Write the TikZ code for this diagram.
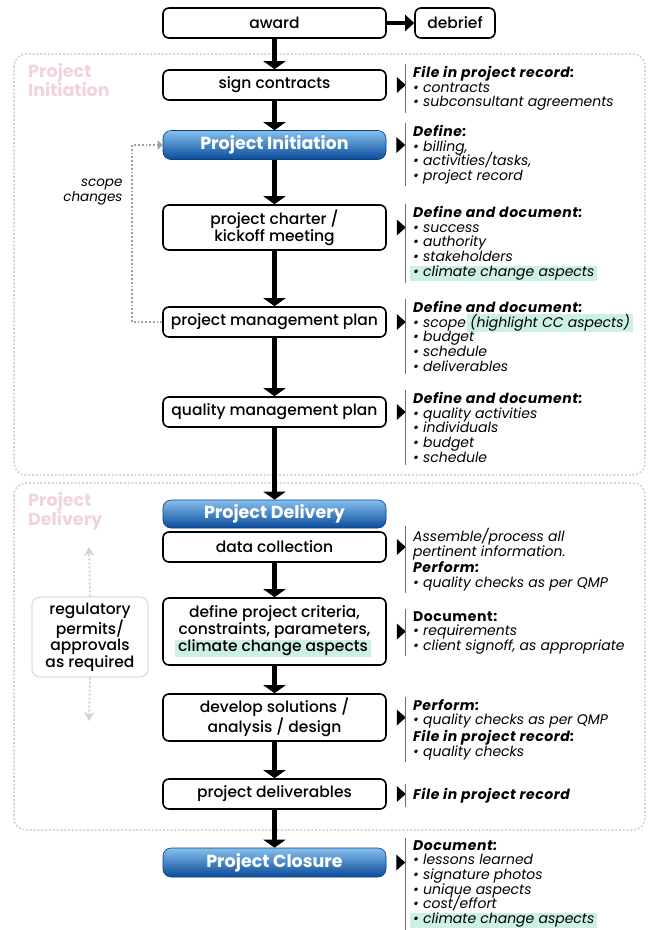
\documentclass[tikz,border=0pt]{standalone}
\usepackage{fontspec}
\setmainfont{Poppins}
\newfontfamily\boxfont{Poppins Medium}
\usetikzlibrary{arrows.meta,positioning}

\definecolor{phasetop}{HTML}{86C0EE}
\definecolor{phasebot}{HTML}{0A4B9B}
\definecolor{ccgreen}{HTML}{CCF0E2}
\definecolor{regionline}{HTML}{D8D2D4}
\definecolor{regionpink}{HTML}{F2D3DC}
\definecolor{notegray}{HTML}{6E6E6E}

\newcommand{\hl}[1]{{\setlength{\fboxsep}{0pt}\hspace*{-3pt}\colorbox{ccgreen}{\hspace{3pt}\strut #1\hspace{3pt}}}}
\newcommand{\head}[1]{{\bfseries\addfontfeatures{LetterSpace=4}#1}}
\newcommand{\tightlines}{\setlength{\lineskiplimit}{-10pt}\setlength{\lineskip}{0pt}}

\tikzset{
  stepbox/.style={draw, line width=1.6pt, rounded corners=6pt, fill=white,
    minimum width=223pt, minimum height=30pt, inner sep=2pt, align=center,
    font=\boxfont\fontsize{15.5}{17}\selectfont},
  phasebox/.style={draw=phasebot!85!black, line width=0.6pt, rounded corners=8pt,
    top color=phasetop, bottom color=phasebot, text=white,
    minimum width=223pt, minimum height=29pt, font=\fontsize{17.5}{19}\selectfont\bfseries},
  flow/.style={line width=4.5pt, -{Triangle[width=22pt,length=8pt]}},
  sideflow/.style={line width=4pt, -{Triangle[width=16pt,length=9pt]}},
  note/.style={anchor=north west, align=left, inner xsep=8pt, inner ysep=2pt,
    font=\fontsize{14}{14.7}\selectfont\itshape\tightlines},
  noteline/.style={draw=notegray, line width=1pt},
  region/.style={draw=regionline, line width=1.8pt, dotted, rounded corners=12pt},
  regionlabel/.style={anchor=north west, align=left, text=regionpink, inner sep=0pt,
    font=\fontsize{17.5}{18.5}\selectfont\bfseries},
  scopeline/.style={draw=gray!75, line width=1.8pt, dotted, -{Triangle[width=9pt,length=5pt]}},
  permitline/.style={draw=gray!35, line width=2pt, dotted, -{Stealth[width=10pt,length=9pt]}},
}

\begin{document}
\begin{tikzpicture}[x=1pt,y=-1pt]
\useasboundingbox (0,0) rectangle (649,930);

\draw[region] (14,54) rectangle (645,475);
\draw[region] (14,483) rectangle (645,830);
\node[regionlabel] (initlbl) at (28,63) {Project\\Initiation};
\node[regionlabel] (delivlbl) at (28,492) {Project\\Delivery};

\node[stepbox] (award) at (274.5,23) {award};
\node[stepbox, minimum width=80pt] (debrief) at (455,23) {debrief};
\node[stepbox] (sc) at (274.5,85) {sign contracts};
\node[phasebox] (pi) at (274.5,145) {Project Initiation};
\node[stepbox, minimum height=45pt] (charter) at (274.5,227.5) {project charter /\\kickoff meeting};
\node[stepbox] (pmp) at (274.5,322) {project management plan};
\node[stepbox] (qmp) at (274.5,412) {quality management plan};
\node[phasebox, minimum height=28pt] (pd) at (274.5,514) {Project Delivery};
\node[stepbox] (dc) at (274.5,547) {data collection};
\node[stepbox, minimum height=67pt] (crit) at (274.5,631.5) {define project criteria,\\constraints, parameters,\\\hl{climate change aspects}};
\node[stepbox, minimum height=47pt] (dev) at (274.5,717.5) {develop solutions /\\analysis / design};
\node[stepbox] (deliv) at (274.5,794) {project deliverables};
\node[phasebox] (closure) at (274.5,862.5) {Project Closure};

\draw[sideflow] (award) -- (debrief);
\foreach \a/\b in {award/sc, sc/pi, pi/charter, charter/pmp, pmp/qmp, qmp/pd, dc/crit, crit/dev, dev/deliv, deliv/closure}
  \draw[flow] (\a) -- (\b);

\draw[scopeline] (pmp.west) -- ++(-30,0) |- (pi.west);
\node[anchor=east, align=right, font=\fontsize{13.5}{14.6}\selectfont\itshape] (scopelbl) at (126,192) {scope\\changes};

\node[draw=gray!25, line width=1.4pt, rounded corners=8pt, fill=white, minimum width=116pt, minimum height=80pt,
  align=center, inner sep=1pt, font=\boxfont\fontsize{15.5}{16.5}\selectfont] (reg) at (90,637) {regulatory\\permits/\\approvals\\as required};
\coordinate (regtop) at (89,547);
\coordinate (regbot) at (89,721);
\draw[permitline] (reg.north) -- (regtop);
\draw[permitline] (reg.south) -- (regbot);

\foreach \b in {sc,pi,charter,pmp,qmp,dc,crit,dev,deliv,closure}
  \fill ([xshift=10pt]\b.east) ++(0,-8) -- ++(9,8) -- ++(-9,8) -- cycle;

\node[note] (scnote) at (405,64) {\head{File in project record:}\\\textbullet{} contracts\\\textbullet{} subconsultant agreements};
\node[note] (pinote) at (405,123) {\head{Define:}\\\textbullet{} billing,\\\textbullet{} activities/tasks,\\\textbullet{} project record};
\node[note] (chnote) at (405,204) {\head{Define and document:}\\\textbullet{} success\\\textbullet{} authority\\\textbullet{} stakeholders\\\hl{\textbullet{} climate change aspects}};
\node[note] (pmpnote) at (405,299) {\head{Define and document:}\\\textbullet{} scope \hl{(highlight CC aspects)}\\\textbullet{} budget\\\textbullet{} schedule\\\textbullet{} deliverables};
\node[note] (qmpnote) at (405,390) {\head{Define and document:}\\\textbullet{} quality activities\\\textbullet{} individuals\\\textbullet{} budget\\\textbullet{} schedule};
\node[note] (dcnote) at (405,526) {Assemble/process all\\pertinent information.\\[2pt]\head{Perform:}\\\textbullet{} quality checks as per QMP};
\node[note] (critnote) at (405,609) {\textup{\head{Document:}}\\\textbullet{} requirements\\\textbullet{} client signoff, as appropriate};
\node[note] (devnote) at (405,697) {\head{Perform:}\\\textbullet{} quality checks as per QMP\\[2pt]\head{File in project record:}\\\textbullet{} quality checks};
\node[note, inner ysep=4pt] (delivnote) at (405,784) {\head{File in project record}};
\node[note] (clnote) at (405,838) {\head{Document:}\\\textbullet{} lessons learned\\\textbullet{} signature photos\\\textbullet{} unique aspects\\\textbullet{} cost/effort\\\hl{\textbullet{} climate change aspects}};

\foreach \n in {scnote,pinote,chnote,pmpnote,qmpnote,dcnote,critnote,devnote,delivnote,clnote}
  \draw[noteline] (\n.north west) -- (\n.south west);

\end{tikzpicture}
\end{document}
